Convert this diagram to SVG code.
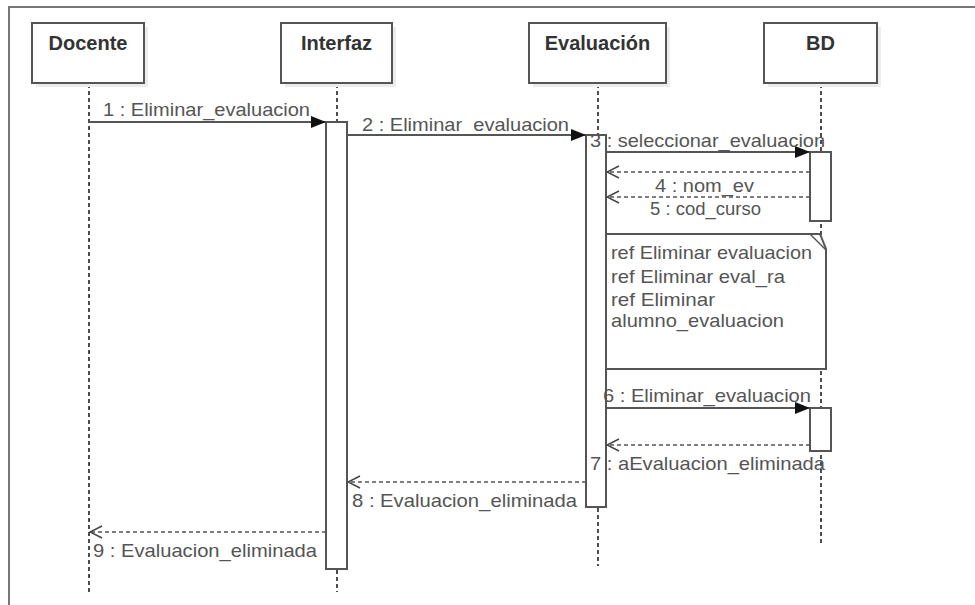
<svg xmlns="http://www.w3.org/2000/svg" width="975" height="605" viewBox="0 0 975 605">
  <style>
    .frame { stroke: #777; stroke-width: 2; fill: none; }
    .box { fill: #fff; stroke: #555; stroke-width: 2; }
    .shadow { fill: #ececec; }
    .title { font-family: "Liberation Sans", Arial, sans-serif; font-size: 20px; font-weight: bold; fill: #333; text-anchor: middle; }
    .life { stroke: #222; stroke-width: 1.6; stroke-dasharray: 4 3; fill: none; }
    .act { fill: #fff; stroke: #555; stroke-width: 2; }
    .msg { stroke: #555; stroke-width: 2; fill: none; }
    .ret { stroke: #555; stroke-width: 1.6; stroke-dasharray: 4 3; fill: none; }
    .lbl { font-family: "Liberation Sans", Arial, sans-serif; font-size: 18.5px; fill: #555; }
    .note { fill: #fff; stroke: #555; stroke-width: 2; }
  </style>
  <defs>
    <marker id="solid" markerWidth="16" markerHeight="12" refX="15" refY="6" orient="auto" markerUnits="userSpaceOnUse">
      <path d="M0,0 L15,6 L0,12 Z" fill="#111"/>
    </marker>
    <marker id="open" markerWidth="14" markerHeight="14" refX="13" refY="7" orient="auto" markerUnits="userSpaceOnUse">
      <path d="M1,1 L13,7 L1,13" fill="none" stroke="#444" stroke-width="1.5"/>
    </marker>
  </defs>

  <rect width="975" height="605" fill="#fff"/>
  <!-- outer frame -->
  <path class="frame" d="M9,605 L9,7 L975,7"/>

  <!-- lifelines -->
  <g id="lifelines">
    <line class="life" x1="89" y1="84" x2="89" y2="592"/>
    <line class="life" x1="337" y1="84" x2="337" y2="122"/>
    <line class="life" x1="337" y1="570" x2="337" y2="592"/>
    <line class="life" x1="598" y1="84" x2="598" y2="135"/>
    <line class="life" x1="598" y1="508" x2="598" y2="566"/>
    <line class="life" x1="821" y1="84" x2="821" y2="544"/>
  </g>

  <!-- participants -->
  <g id="docente">
    <rect class="shadow" x="36" y="27" width="112" height="60"/>
    <rect class="box" x="32" y="23" width="112" height="60"/>
    <text class="title" x="88" y="50">Docente</text>
  </g>
  <g id="interfaz">
    <rect class="shadow" x="285" y="27" width="111" height="60"/>
    <rect class="box" x="281" y="23" width="111" height="60"/>
    <text class="title" x="336.5" y="50">Interfaz</text>
  </g>
  <g id="evaluacion">
    <rect class="shadow" x="533" y="27" width="137" height="60"/>
    <rect class="box" x="529" y="23" width="137" height="60"/>
    <text class="title" x="597.5" y="50">Evaluación</text>
  </g>
  <g id="bd">
    <rect class="shadow" x="768" y="27" width="113" height="60"/>
    <rect class="box" x="764" y="23" width="113" height="60"/>
    <text class="title" x="820.5" y="50">BD</text>
  </g>

  <!-- activation bars -->
  <g id="activations">
    <rect class="act" x="326" y="122" width="21" height="447"/>
    <rect class="act" x="586" y="135" width="20" height="372"/>
    <rect class="act" x="810" y="152" width="21" height="69"/>
    <rect class="act" x="810" y="408" width="21" height="43"/>
  </g>

  <!-- ref note -->
  <g id="ref-note">
    <path class="note" d="M606,234 L820,234 L826,249 L826,369 L606,369 Z"/>
    <path d="M810,234 L826,250" stroke="#555" stroke-width="1.5" fill="none"/>
    <text class="lbl" x="611" y="259" textLength="201" lengthAdjust="spacingAndGlyphs">ref Eliminar evaluacion</text>
    <text class="lbl" x="611" y="283" textLength="174" lengthAdjust="spacingAndGlyphs">ref Eliminar eval_ra</text>
    <text class="lbl" x="611" y="306" textLength="104" lengthAdjust="spacingAndGlyphs">ref Eliminar</text>
    <text class="lbl" x="611" y="327" textLength="173" lengthAdjust="spacingAndGlyphs">alumno_evaluacion</text>
  </g>

  <!-- messages -->
  <g id="connectors">
    <line class="msg" x1="89" y1="122" x2="326" y2="122" marker-end="url(#solid)"/>
    <text class="lbl" x="103" y="116" textLength="207" lengthAdjust="spacingAndGlyphs">1 : Eliminar_evaluacion</text>

    <line class="msg" x1="347" y1="135" x2="586" y2="135" marker-end="url(#solid)"/>
    <text class="lbl" x="362" y="131" textLength="207" lengthAdjust="spacingAndGlyphs">2 : Eliminar_evaluacion</text>

    <line class="msg" x1="606" y1="152" x2="810" y2="152" marker-end="url(#solid)"/>
    <text class="lbl" x="590" y="147" textLength="235" lengthAdjust="spacingAndGlyphs">3 : seleccionar_evaluacion</text>

    <line class="ret" x1="810" y1="172" x2="607" y2="172" marker-end="url(#open)"/>
    <text class="lbl" x="655" y="192" textLength="99" lengthAdjust="spacingAndGlyphs">4 : nom_ev</text>

    <line class="ret" x1="810" y1="197" x2="607" y2="197" marker-end="url(#open)"/>
    <text class="lbl" x="650" y="215" textLength="111" lengthAdjust="spacingAndGlyphs">5 : cod_curso</text>

    <line class="msg" x1="606" y1="408" x2="810" y2="408" marker-end="url(#solid)"/>
    <text class="lbl" x="603" y="402" textLength="208" lengthAdjust="spacingAndGlyphs">6 : Eliminar_evaluacion</text>

    <line class="ret" x1="810" y1="445" x2="607" y2="445" marker-end="url(#open)"/>
    <text class="lbl" x="590" y="470" textLength="235" lengthAdjust="spacingAndGlyphs">7 : aEvaluacion_eliminada</text>

    <line class="ret" x1="586" y1="482" x2="348" y2="482" marker-end="url(#open)"/>
    <text class="lbl" x="352" y="507" textLength="225" lengthAdjust="spacingAndGlyphs">8 : Evaluacion_eliminada</text>

    <line class="ret" x1="326" y1="532" x2="90" y2="532" marker-end="url(#open)"/>
    <text class="lbl" x="93" y="557" textLength="224" lengthAdjust="spacingAndGlyphs">9 : Evaluacion_eliminada</text>
  </g>
</svg>
